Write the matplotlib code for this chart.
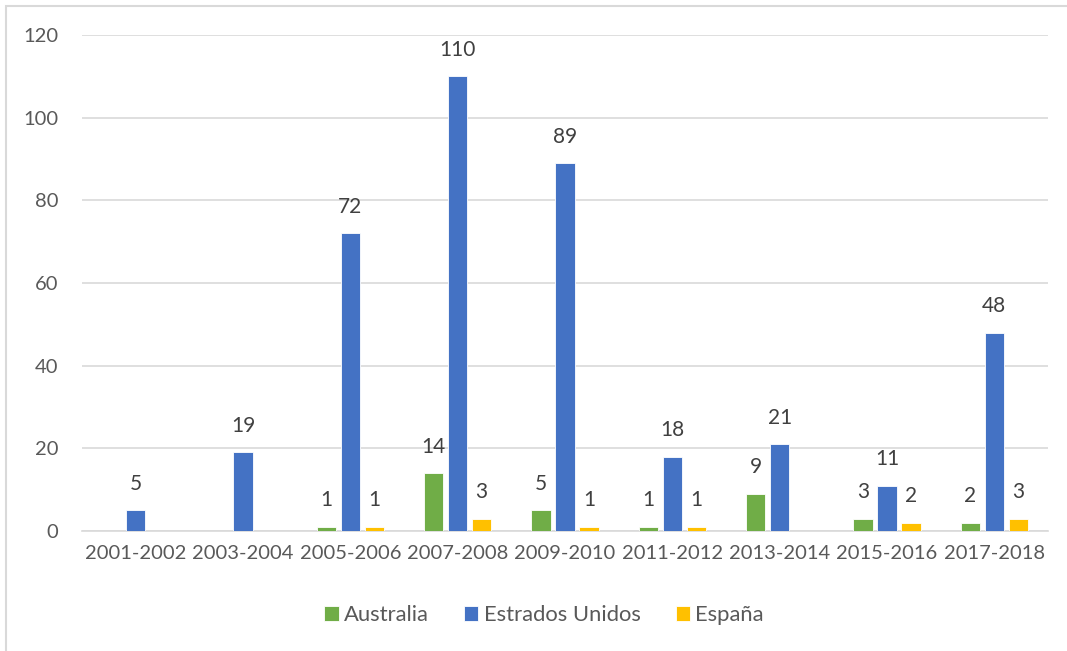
import numpy as np
import matplotlib
matplotlib.use("Agg")
import matplotlib.pyplot as plt
from matplotlib.patches import Rectangle

categories = ["2001-2002", "2003-2004", "2005-2006", "2007-2008", "2009-2010",
              "2011-2012", "2013-2014", "2015-2016", "2017-2018"]
australia = [np.nan, np.nan, 1, 14, 5, 1, 9, 3, 2]
estados_unidos = [5, 19, 72, 110, 89, 18, 21, 11, 48]
espana = [np.nan, np.nan, 1, 3, 1, 1, np.nan, 2, 3]
series_names = ["Australia", "Estrados Unidos", "España"]
colors = ["#70AD47", "#4472C4", "#FFC000"]
yticks = [0, 20, 40, 60, 80, 100, 120]

plt.rcParams['font.family'] = ['Lato', 'DejaVu Sans']
txt = "#595959"
fs = 14.5

fig = plt.figure(figsize=(10.67, 6.51), dpi=100)
fig.patches.append(Rectangle((6/1067, -0.1), 1.2, (1 - 6/651) + 0.1,
                             transform=fig.transFigure, fill=False,
                             edgecolor="#D9D9D9", linewidth=1.5, zorder=0))
ax = fig.add_axes([82/1067, 1 - 531/651, (1048 - 82)/1067, (531 - 35)/651])

x = np.arange(len(categories))
step = 0.224
width = 0.178
data = [australia, estados_unidos, espana]
for i, (vals, name, c) in enumerate(zip(data, series_names, colors)):
    pos = x + (i - 1) * step
    bars = ax.bar(pos, vals, width=width, color=c, label=name,
                  edgecolor="white", linewidth=0.6, zorder=3)
    for p, v in zip(pos, vals):
        if not np.isnan(v):
            ax.annotate(f"{int(v)}", (p, v), xytext=(0, 19), textcoords="offset points",
                        ha="center", va="center", fontsize=15, color="#404040")

ax.set_xlim(-0.5, len(categories) - 0.5)
ax.set_ylim(0, 120)
ax.set_yticks(yticks)
ax.set_xticks(x)
ax.set_xticklabels(categories)
ax.grid(axis="y", color="#D9D9D9", linewidth=1.2, zorder=0)
ax.set_axisbelow(True)
for s in ["top", "right", "left"]:
    ax.spines[s].set_visible(False)
ax.spines["bottom"].set_color("#D9D9D9")
ax.spines["bottom"].set_linewidth(1.2)
ax.tick_params(axis="both", length=0, labelsize=fs, labelcolor=txt)
ax.tick_params(axis="y", pad=17)
ax.tick_params(axis="x", pad=10)

fig.legend(loc="center", bbox_to_anchor=(544/1067, 1 - 615/651), ncol=3,
           frameon=False, fontsize=15.8, labelcolor=txt, handlelength=0.64,
           handleheight=0.64, handletextpad=0.25, columnspacing=1.6)

fig.savefig("out.png", dpi=100)
